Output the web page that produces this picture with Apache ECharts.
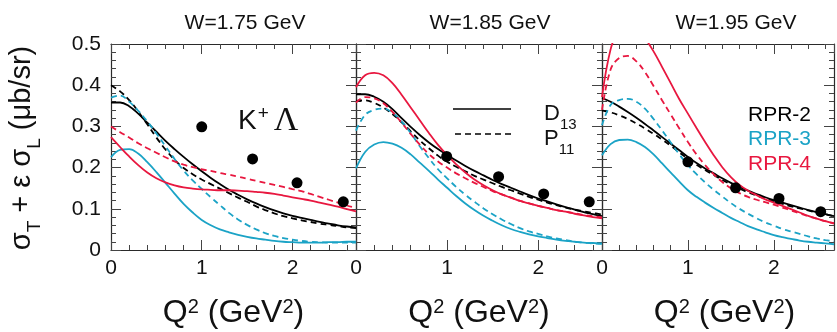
<!DOCTYPE html>
<html><head><meta charset="utf-8">
<script src="https://cdn.jsdelivr.net/npm/echarts@6/dist/echarts.min.js"></script>
<style>html,body{margin:0;padding:0;background:#fff}#c{width:837px;height:332px}</style>
</head><body><div id="c"></div>
<script>
// ---- data ----
const panelTitles = ['W=1.75 GeV', 'W=1.85 GeV', 'W=1.95 GeV'];
const yTickLabels = ['0', '0.1', '0.2', '0.3', '0.4', '0.5'];
const xTickLabels = ['0', '1', '2'];
const q = [0, 0.1, 0.2, 0.3, 0.4, 0.5, 0.6, 0.7, 0.8, 0.9, 1.0, 1.1, 1.2, 1.3, 1.4, 1.5, 1.6, 1.7, 1.8, 1.9, 2.0, 2.1, 2.2, 2.3, 2.4, 2.5, 2.6, 2.7];

// W = 1.75 GeV
const w175_rpr2_d13 = [0.358, 0.358, 0.349, 0.331, 0.309, 0.287, 0.265, 0.245, 0.226, 0.208, 0.191, 0.175, 0.160, 0.146, 0.134, 0.123, 0.113, 0.104, 0.096, 0.089, 0.083, 0.078, 0.073, 0.068, 0.064, 0.060, 0.057, 0.055];
const w175_rpr2_p11 = [0.400, 0.385, 0.364, 0.336, 0.305, 0.273, 0.244, 0.219, 0.199, 0.184, 0.171, 0.160, 0.149, 0.138, 0.127, 0.117, 0.106, 0.097, 0.089, 0.082, 0.077, 0.072, 0.068, 0.064, 0.061, 0.058, 0.055, 0.053];
const w175_rpr3_d13 = [0.225, 0.243, 0.245, 0.234, 0.213, 0.189, 0.163, 0.137, 0.112, 0.091, 0.073, 0.060, 0.050, 0.043, 0.037, 0.032, 0.028, 0.025, 0.022, 0.020, 0.019, 0.018, 0.018, 0.018, 0.019, 0.019, 0.020, 0.020];
const w175_rpr3_p11 = [0.370, 0.375, 0.360, 0.338, 0.312, 0.283, 0.252, 0.221, 0.193, 0.169, 0.148, 0.128, 0.109, 0.090, 0.074, 0.061, 0.050, 0.041, 0.034, 0.029, 0.025, 0.022, 0.020, 0.019, 0.018, 0.018, 0.018, 0.018];
const w175_rpr4_d13 = [0.274, 0.250, 0.227, 0.206, 0.188, 0.174, 0.164, 0.157, 0.152, 0.149, 0.147, 0.146, 0.145, 0.145, 0.144, 0.143, 0.141, 0.139, 0.136, 0.132, 0.128, 0.124, 0.120, 0.115, 0.110, 0.105, 0.099, 0.094];
const w175_rpr4_p11 = [0.300, 0.286, 0.273, 0.259, 0.247, 0.236, 0.225, 0.215, 0.207, 0.201, 0.196, 0.192, 0.187, 0.183, 0.178, 0.173, 0.168, 0.163, 0.158, 0.153, 0.148, 0.143, 0.136, 0.129, 0.122, 0.115, 0.108, 0.102];
const w175_q2 = [1.0, 1.56, 2.05, 2.56];
const w175_sig = [0.299, 0.221, 0.163, 0.117];

// W = 1.85 GeV
const w185_rpr2_d13 = [0.378, 0.378, 0.372, 0.360, 0.342, 0.320, 0.299, 0.279, 0.261, 0.245, 0.231, 0.217, 0.204, 0.192, 0.181, 0.170, 0.160, 0.151, 0.142, 0.133, 0.125, 0.118, 0.111, 0.104, 0.098, 0.092, 0.087, 0.082];
const w185_rpr2_p11 = [0.362, 0.363, 0.357, 0.346, 0.330, 0.310, 0.288, 0.266, 0.247, 0.229, 0.214, 0.202, 0.191, 0.180, 0.171, 0.162, 0.153, 0.145, 0.137, 0.129, 0.122, 0.115, 0.109, 0.103, 0.098, 0.094, 0.090, 0.086];
const w185_rpr3_d13 = [0.198, 0.238, 0.256, 0.262, 0.258, 0.248, 0.232, 0.212, 0.192, 0.171, 0.151, 0.131, 0.113, 0.097, 0.083, 0.071, 0.060, 0.051, 0.044, 0.038, 0.033, 0.029, 0.025, 0.022, 0.020, 0.018, 0.017, 0.016];
const w185_rpr3_p11 = [0.290, 0.328, 0.340, 0.343, 0.333, 0.312, 0.284, 0.252, 0.223, 0.196, 0.174, 0.153, 0.134, 0.117, 0.101, 0.087, 0.074, 0.063, 0.053, 0.045, 0.039, 0.033, 0.028, 0.024, 0.020, 0.018, 0.016, 0.015];
const w185_rpr4_d13 = [0.395, 0.424, 0.430, 0.424, 0.405, 0.377, 0.346, 0.315, 0.284, 0.255, 0.230, 0.208, 0.188, 0.171, 0.157, 0.145, 0.135, 0.127, 0.119, 0.113, 0.107, 0.102, 0.097, 0.093, 0.088, 0.084, 0.080, 0.077];
const w185_rpr4_p11 = [0.358, 0.371, 0.368, 0.356, 0.335, 0.309, 0.282, 0.256, 0.233, 0.215, 0.200, 0.186, 0.174, 0.163, 0.153, 0.143, 0.135, 0.127, 0.119, 0.113, 0.107, 0.102, 0.097, 0.093, 0.089, 0.085, 0.082, 0.079];
const w185_q2 = [0.995, 1.565, 2.06, 2.56];
const w185_sig = [0.227, 0.178, 0.136, 0.117];

// W = 1.95 GeV
const w195_rpr2_d13 = [0.369, 0.360, 0.348, 0.335, 0.321, 0.306, 0.290, 0.274, 0.258, 0.242, 0.226, 0.211, 0.198, 0.186, 0.174, 0.163, 0.153, 0.144, 0.136, 0.128, 0.121, 0.115, 0.109, 0.103, 0.097, 0.092, 0.087, 0.082];
const w195_rpr2_p11 = [0.339, 0.334, 0.327, 0.318, 0.307, 0.295, 0.282, 0.268, 0.253, 0.237, 0.221, 0.207, 0.194, 0.182, 0.170, 0.159, 0.149, 0.140, 0.132, 0.125, 0.118, 0.112, 0.106, 0.101, 0.096, 0.091, 0.087, 0.082];
const w195_rpr3_d13 = [0.230, 0.257, 0.267, 0.268, 0.262, 0.250, 0.232, 0.210, 0.188, 0.166, 0.145, 0.129, 0.115, 0.102, 0.090, 0.078, 0.068, 0.058, 0.050, 0.043, 0.036, 0.031, 0.027, 0.023, 0.020, 0.018, 0.016, 0.014];
const w195_rpr3_p11 = [0.303, 0.352, 0.364, 0.367, 0.360, 0.343, 0.318, 0.290, 0.261, 0.232, 0.206, 0.184, 0.164, 0.146, 0.130, 0.114, 0.100, 0.088, 0.077, 0.067, 0.059, 0.051, 0.045, 0.039, 0.033, 0.028, 0.024, 0.021];
const w195_rpr4_d13 = [0.371, 0.487, 0.537, 0.556, 0.546, 0.515, 0.482, 0.444, 0.405, 0.366, 0.331, 0.296, 0.262, 0.230, 0.201, 0.177, 0.158, 0.144, 0.133, 0.123, 0.115, 0.107, 0.099, 0.091, 0.083, 0.076, 0.070, 0.064];
const w195_rpr4_p11 = [0.340, 0.438, 0.466, 0.471, 0.458, 0.432, 0.398, 0.363, 0.329, 0.295, 0.262, 0.232, 0.206, 0.184, 0.165, 0.150, 0.138, 0.129, 0.122, 0.116, 0.110, 0.103, 0.096, 0.089, 0.082, 0.076, 0.070, 0.065];
const w195_q2 = [1.0, 1.555, 2.06, 2.545];
const w195_sig = [0.214, 0.151, 0.125, 0.093];

const models = ['RPR-2', 'RPR-3', 'RPR-4'];
const waves = ['D13', 'P11'];

// ---- styling / layout ----
const FONT = '"Liberation Sans", Arial, Helvetica, sans-serif';
const colors = { 'RPR-2': '#000000', 'RPR-3': '#1ba3c6', 'RPR-4': '#e8173f' };
const panels = [
  { curves: { 'RPR-2': [w175_rpr2_d13, w175_rpr2_p11], 'RPR-3': [w175_rpr3_d13, w175_rpr3_p11], 'RPR-4': [w175_rpr4_d13, w175_rpr4_p11] }, q2: w175_q2, sig: w175_sig },
  { curves: { 'RPR-2': [w185_rpr2_d13, w185_rpr2_p11], 'RPR-3': [w185_rpr3_d13, w185_rpr3_p11], 'RPR-4': [w185_rpr4_d13, w185_rpr4_p11] }, q2: w185_q2, sig: w185_sig },
  { curves: { 'RPR-2': [w195_rpr2_d13, w195_rpr2_p11], 'RPR-3': [w195_rpr3_d13, w195_rpr3_p11], 'RPR-4': [w195_rpr4_d13, w195_rpr4_p11] }, q2: w195_q2, sig: w195_sig }
];
const gridLeft = [111, 356, 602];
const gridWidth = [245, 246, 245];
const gridTop = 44, gridHeight = 206;
const XMAX = 2.7;
const lineCol = '#2a2a2a', tickCol = '#444';

const grids = [], xAxes = [], yAxes = [], series = [];
panels.forEach((p, i) => {
  grids.push({ left: gridLeft[i], top: gridTop, width: gridWidth[i], height: gridHeight, containLabel: false });
  const xBase = (pos, major) => ({
    type: 'value', gridIndex: i, position: pos, min: 0, max: XMAX, interval: major ? 1 : 0.2,
    axisLine: { show: major, onZero: false, lineStyle: { color: lineCol, width: 1.2 } },
    axisTick: { show: true, inside: true, length: major ? 10 : 5, lineStyle: { color: tickCol, width: 1 } },
    axisLabel: { show: major && pos === 'bottom', margin: 8, fontSize: 21, color: '#111', fontFamily: FONT,
      formatter: v => { const k = xTickLabels.indexOf(String(Math.round(v * 1000) / 1000)); return k >= 0 ? xTickLabels[k] : ''; } },
    splitLine: { show: false }
  });
  xAxes.push(xBase('bottom', true), xBase('bottom', false), xBase('top', true), xBase('top', false));
  const yBase = (pos) => ({
    type: 'value', gridIndex: i, position: pos, min: 0, max: 0.5, interval: 0.1,
    axisLine: { show: true, onZero: false, lineStyle: { color: lineCol, width: 1.2 } },
    axisTick: { show: true, inside: true, length: 10, lineStyle: { color: tickCol, width: 1 } },
    minorTick: { show: true, splitNumber: 5, length: 5, lineStyle: { color: tickCol, width: 1 } },
    axisLabel: { show: i === 0 && pos === 'left', margin: 10, fontSize: 21, color: '#111', fontFamily: FONT,
      formatter: v => yTickLabels[Math.round(v * 10)] },
    splitLine: { show: false }, minorSplitLine: { show: false }
  });
  yAxes.push(yBase('left'), yBase('right'));
  models.forEach(m => {
    waves.forEach((w, wi) => {
      series.push({
        name: m + ' ' + w, type: 'line', xAxisIndex: 4 * i, yAxisIndex: 2 * i,
        data: q.map((x, k) => [x, p.curves[m][wi][k]]),
        smooth: 0.4, symbol: 'none', clip: true, silent: true,
        lineStyle: { color: colors[m], width: 1.8, type: wi === 0 ? 'solid' : [6, 4] },
        z: 2
      });
    });
  });
  series.push({
    name: 'data', type: 'scatter', xAxisIndex: 4 * i, yAxisIndex: 2 * i,
    data: p.q2.map((x, k) => [x, p.sig[k]]), symbol: 'circle', symbolSize: 11,
    itemStyle: { color: '#000', opacity: 1 }, z: 5
  });
});

const graphic = [];
panelTitles.forEach((t, i) => {
  graphic.push({ type: 'text', x: gridLeft[i] + 134, y: 23, style: { text: t, fontSize: 21, fontFamily: FONT, fill: '#111', align: 'center', verticalAlign: 'middle' } });
  graphic.push({ type: 'text', x: gridLeft[i] + gridWidth[i] / 2, y: 313, style: {
    text: 'Q{sup|2} (GeV{sup|2})', fontSize: 32, fontFamily: FONT, fill: '#111', align: 'center', verticalAlign: 'middle',
    rich: { sup: { fontSize: 20, fontFamily: FONT, fill: '#111', verticalAlign: 'top', lineHeight: 22 } } } });
});
// y axis title
graphic.push({ type: 'text', x: 22, y: 148, rotation: Math.PI / 2, style: {
  text: 'σ{sub|T} + ε σ{sub|L} (μb/sr)', fontSize: 29, lineHeight: 44, fontFamily: FONT, fill: '#111', align: 'center', verticalAlign: 'middle',
  rich: { sub: { fontSize: 19, fontFamily: FONT, fill: '#111', verticalAlign: 'bottom', lineHeight: 18 } } } });
// K+ Lambda
graphic.push({ type: 'text', x: 238, y: 121, style: {
  text: 'K{sup|+}{lam|Λ}', fontSize: 28, fontFamily: FONT, fill: '#111', align: 'left', verticalAlign: 'middle',
  rich: { sup: { fontSize: 19, fontFamily: FONT, fill: '#111', verticalAlign: 'top', lineHeight: 18, padding: [0, 5, 0, 1] },
          lam: { fontSize: 34, fontFamily: '"Liberation Serif", "Times New Roman", serif', fill: '#111' } } } });
// D13 / P11 key
graphic.push({ type: 'line', shape: { x1: 453, y1: 109, x2: 511, y2: 109 }, style: { stroke: '#000', lineWidth: 1.6 } });
graphic.push({ type: 'line', shape: { x1: 455, y1: 134, x2: 511, y2: 134 }, style: { stroke: '#000', lineWidth: 1.6, lineDash: [6, 4] } });
graphic.push({ type: 'text', x: 544, y: 114, style: { text: 'D{sub|13}', fontSize: 22, lineHeight: 36, fontFamily: FONT, fill: '#111', align: 'left', verticalAlign: 'middle',
  rich: { sub: { fontSize: 15, fontFamily: FONT, fill: '#111', verticalAlign: 'bottom', lineHeight: 14 } } } });
graphic.push({ type: 'text', x: 544, y: 139, style: { text: 'P{sub|11}', fontSize: 22, lineHeight: 36, fontFamily: FONT, fill: '#111', align: 'left', verticalAlign: 'middle',
  rich: { sub: { fontSize: 15, fontFamily: FONT, fill: '#111', verticalAlign: 'bottom', lineHeight: 14 } } } });
// model key
models.forEach((m, k) => {
  graphic.push({ type: 'text', x: 748, y: 115 + k * 24.5, style: { text: m, fontSize: 21, fontFamily: FONT, fill: colors[m], align: 'left', verticalAlign: 'middle' } });
});

const chart = echarts.init(document.getElementById('c'), null, { renderer: 'canvas' });
chart.setOption({
  animation: false,
  backgroundColor: '#fff',
  grid: grids, xAxis: xAxes, yAxis: yAxes, series: series, graphic: graphic
});
</script></body></html>
